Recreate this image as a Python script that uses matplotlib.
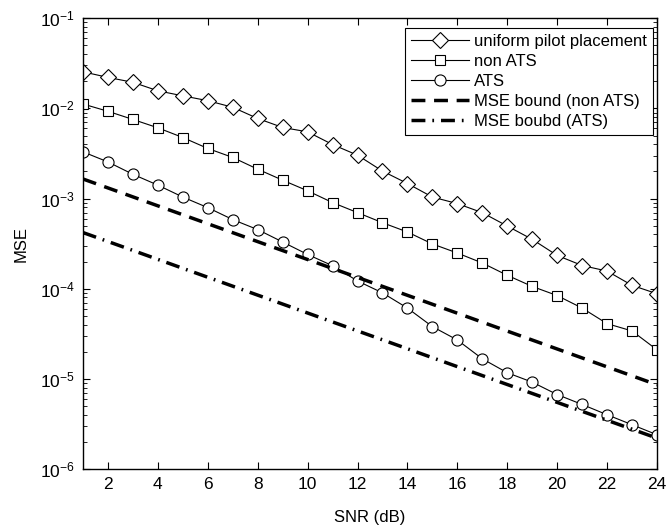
import numpy as np
import matplotlib
matplotlib.use("Agg")
import matplotlib.pyplot as plt

plt.rcParams['font.family'] = ['Liberation Sans', 'DejaVu Sans']

snr = list(range(1, 25))

uniform = [0.0255, 0.0221, 0.0195, 0.0157, 0.0138, 0.0122, 0.0103, 0.00774,
           0.00615, 0.0055, 0.00398, 0.00303, 0.00202, 0.00147, 0.00104, 0.00088,
           0.000698, 0.000496, 0.000353, 0.000234, 0.000181, 0.000157, 0.000109, 8.8e-5]
non_ats = [0.0112, 0.0093, 0.00755, 0.0061, 0.00476, 0.0036, 0.00286, 0.00212,
           0.0016, 0.00122, 0.000903, 0.000699, 0.00054, 0.000426, 0.000314, 0.000249,
           0.000193, 0.000141, 0.000106, 8.4e-5, 6.1e-5, 4.1e-5, 3.4e-5, 2.1e-5]
ats = [0.0033, 0.00255, 0.00186, 0.00141, 0.00104, 0.000794, 0.000585, 0.000453,
       0.00033, 0.00024, 0.00018, 0.000122, 9.0e-5, 6.1e-5, 3.8e-5, 2.7e-5,
       1.67e-5, 1.17e-5, 9.2e-6, 6.7e-6, 5.2e-6, 4.0e-6, 3.1e-6, 2.4e-6]

bound_snr = [1, 24]
bound_non_ats = [1.65e-3, 8.6e-6]
bound_ats = [4.2e-4, 2.2e-6]

fig = plt.figure(figsize=(6.67, 5.29), dpi=100)
ax = fig.add_axes([0.1244, 0.1134, 0.8606, 0.852])

ax.semilogy(snr, uniform, 'k-', marker='D', markersize=8, markerfacecolor='white',
            markeredgewidth=0.8, linewidth=0.8, label='uniform pilot placement')
ax.semilogy(snr, non_ats, 'k-', marker='s', markersize=7, markerfacecolor='white',
            markeredgewidth=0.8, linewidth=0.8, label='non ATS')
ax.semilogy(snr, ats, 'k-', marker='o', markersize=8, markerfacecolor='white',
            markeredgewidth=0.8, linewidth=0.8, label='ATS')
ax.semilogy(bound_snr, bound_non_ats, 'k', linestyle=(0, (4, 2.5)), linewidth=2.5,
            label='MSE bound (non ATS)')
ax.semilogy(bound_snr, bound_ats, 'k', linestyle=(0, (4, 2, 0.5, 2)), linewidth=2.5,
            label='MSE boubd (ATS)')

ax.set_xlim(1, 24)
ax.set_ylim(1e-6, 1e-1)
ax.set_xticks(range(2, 25, 2))
ax.tick_params(which='both', direction='in', top=True, right=True, labelsize=12.5)
ax.tick_params(which='major', length=5, pad=6)
ax.tick_params(which='minor', length=3)
ax.set_xlabel('SNR (dB)', fontsize=12, labelpad=13)
ax.set_ylabel('MSE', fontsize=12, labelpad=8)
for s in ax.spines.values():
    s.set_linewidth(1.0)

leg = ax.legend(loc='upper right', bbox_to_anchor=(0.993, 0.978), fontsize=12,
                fancybox=False, framealpha=1, edgecolor='black', handlelength=3.5,
                borderpad=0.35, labelspacing=0.3, borderaxespad=0, handletextpad=0.3)
leg.get_frame().set_linewidth(0.8)

fig.savefig('out.png', dpi=100)
